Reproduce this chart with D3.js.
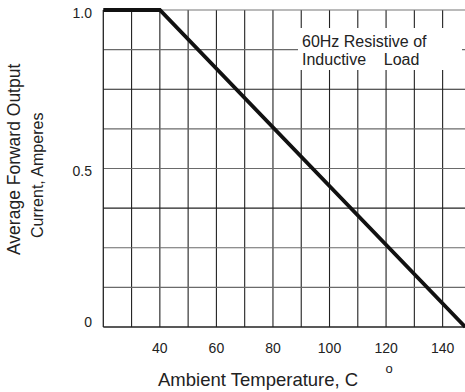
<!DOCTYPE html>
<html><head><meta charset="utf-8">
<script src="https://cdn.jsdelivr.net/npm/d3@7"></script>
<style>body{margin:0;background:#fff}svg{display:block;font-family:"Liberation Sans",Arial,sans-serif}</style>
</head><body><div id="chart"></div>
<script>
const curveTemp = [20, 40, 148];
const curveCurrent = [1.0, 1.0, 0];
const xTickValues = [40, 60, 80, 100, 120, 140];
const yTickValues = [0, 0.5, 1.0];
const yTickLabels = ["0", "0.5", "1.0"];
const xGridValues = [30, 40, 50, 60, 70, 80, 90, 100, 110, 120, 130, 140];
const yGridValues = [0.125, 0.25, 0.375, 0.5, 0.625, 0.75, 0.875];
const noteLines = ["60Hz Resistive of", "Inductive    Load"];

const W = 465, H = 392;
const svg = d3.select("#chart").append("svg").attr("width", W).attr("height", H);
const x = d3.scaleLinear().domain([20, 150]).range([103.3, 470.9]);
const y = d3.scaleLinear().domain([0, 1]).range([327, 10]);

// grid
svg.append("g").selectAll("line").data(xGridValues).join("line")
  .attr("x1", d => x(d)).attr("x2", d => x(d)).attr("y1", y(1)).attr("y2", y(0))
  .attr("stroke", "#222").attr("stroke-width", 1.1);
svg.append("g").selectAll("line").data(yGridValues).join("line")
  .attr("x1", x(20)).attr("x2", W).attr("y1", d => y(d)).attr("y2", d => y(d))
  .attr("stroke", (d, i) => (i === 2 || i === 5 ? "#222" : "#6a6a6a")).attr("stroke-width", 1.1);
// frame
svg.append("line").attr("x1", x(20)).attr("x2", W).attr("y1", y(1)).attr("y2", y(1)).attr("stroke", "#777").attr("stroke-width", 1.2);
svg.append("line").attr("x1", x(20)).attr("x2", W).attr("y1", y(0)).attr("y2", y(0)).attr("stroke", "#222").attr("stroke-width", 1.3);
svg.append("line").attr("x1", x(20)).attr("x2", x(20)).attr("y1", y(1)).attr("y2", y(0)).attr("stroke", "#222").attr("stroke-width", 1.3);

// note box
svg.append("rect").attr("x", 298).attr("y", 28).attr("width", 164).attr("height", 42).attr("fill", "#fff");
svg.append("g").selectAll("text").data(noteLines).join("text")
  .attr("x", 302).attr("y", (d, i) => 47 + i * 18)
  .attr("font-size", 16).attr("fill", "#222").attr("xml:space", "preserve").style("white-space", "pre")
  .text(d => d);

// curve
const pts = curveTemp.map((t, i) => [t, curveCurrent[i]]);
svg.append("path").datum(pts)
  .attr("d", d3.line().x(d => x(d[0])).y(d => y(d[1])))
  .attr("fill", "none").attr("stroke", "#111").attr("stroke-width", 3.8).attr("stroke-linejoin", "miter");

// tick labels
svg.append("g").selectAll("text").data(xTickValues).join("text")
  .attr("x", d => x(d)).attr("y", 353).attr("text-anchor", "middle")
  .attr("font-size", 14).attr("fill", "#222").text(d => d);
svg.append("g").selectAll("text").data(yTickValues).join("text")
  .attr("x", 92).attr("y", d => y(d) + (d === 0 ? 0 : 7.5)).attr("text-anchor", "end")
  .attr("font-size", 14).attr("fill", "#222").text((d, i) => yTickLabels[i]);

// axis titles
const xl = svg.append("text").attr("x", 158).attr("y", 386).attr("fill", "#222");
xl.append("tspan").attr("font-size", 18.5).text("Ambient ");
xl.append("tspan").attr("font-size", 18.5).text("Temperature, C");
svg.append("text").attr("x", 389).attr("y", 373).attr("text-anchor", "middle").attr("font-size", 13).attr("fill", "#222").text("o");

const yl = svg.append("text").attr("transform", "rotate(-90)").attr("text-anchor", "start")
  .attr("fill", "#222");
yl.append("tspan").attr("x", -255).attr("y", 20).attr("font-size", 17.5).text("Average Forward Output");
yl.append("tspan").attr("x", -238).attr("y", 42.5).attr("font-size", 16).text("Current, Amperes");
</script></body></html>
